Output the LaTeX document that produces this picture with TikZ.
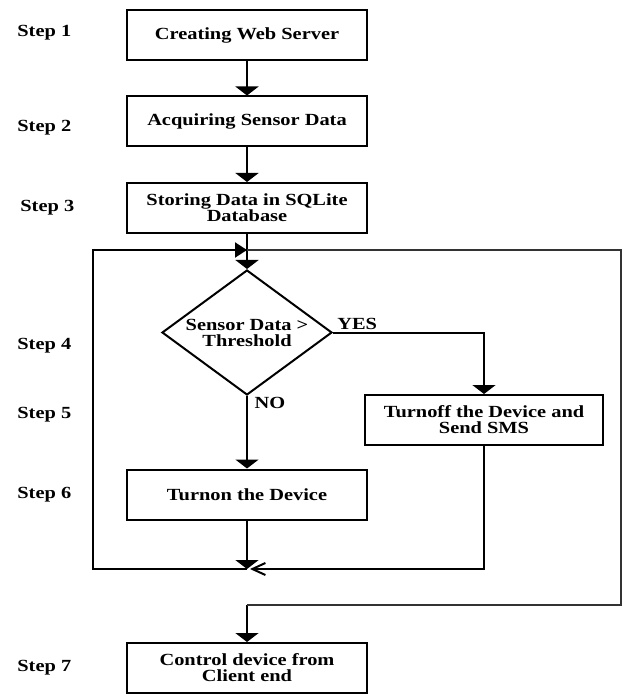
\documentclass[tikz,border=0pt]{standalone}
\usepackage{fontspec}
\setmainfont{Liberation Serif}[FakeStretch=1.2]
\usepackage{tikz}
\usetikzlibrary{arrows.meta,positioning,shapes.geometric}

\begin{document}
\begin{tikzpicture}[x=0.5pt,y=-0.5pt,node distance=43.25pt,on grid,auto,
        font=\fontsize{8.5}{8}\selectfont\bfseries,
        box/.style={draw,line width=1pt,minimum width=120pt,minimum height=25pt,inner sep=1pt,align=center},
        test/.style={draw,diamond,line width=1pt,minimum width=85pt,minimum height=62.5pt,aspect=1.36,inner sep=-1.5pt,align=center},
        steplbl/.style={anchor=west,inner sep=0pt},
        flow/.style={line width=1pt,-{Triangle[width=11.5pt,length=4.5pt]}},
        loopin/.style={line width=1pt,-{Triangle[width=7.5pt,length=6pt]}},
        back/.style={line width=1pt,-{Straight Barb[width=6pt,length=6.5pt]}}]
        \useasboundingbox (0,0) rectangle (624,695);
        \node[box]  (s_1) at (247,35)     {Creating Web Server};
        \node[box]  (s_2) [below=of s_1]  {Acquiring Sensor Data};
        \node[box]  (s_3) [below=of s_2]  {Storing Data in SQLite\\Database};
        \node[test] (s_4) [below=62.25pt of s_3] {Sensor Data >\\Threshold};
        \node[box,minimum width=119pt] (s_5) [below right=43.75pt and 118.5pt of s_4] {Turnoff the Device and\\Send SMS};
        \node[box]  (s_6) [below=81pt of s_4] {Turnon the Device};
        \node[box]  (s_7) at (247,668)    {Control device from\\Client end};
        % step labels
        \node[steplbl] (l_1) at (17,33)  {Step 1};
        \node[steplbl] (l_2) at (17,128) {Step 2};
        \node[steplbl] (l_3) at (20,208) {Step 3};
        \node[steplbl] (l_4) at (17,346) {Step 4};
        \node[steplbl] (l_5) at (17,415) {Step 5};
        \node[steplbl] (l_6) at (17,495) {Step 6};
        \node[steplbl] (l_7) at (17,668) {Step 7};
        % loop points
        \coordinate (top)  at (247,250);
        \coordinate (mrg)  at (247,569);
        \coordinate (mrgr) at (250,569);
        \coordinate (out)  at (247,605);
        \path[flow]
        (s_1) edge (s_2)
        (s_2) edge (s_3)
        (s_3) edge (s_4)
        (s_4) edge node[pos=0.1] {NO} (s_6)
        (s_6) edge (mrg)
        (out) edge (s_7);
        \draw[flow] (s_4.east) -- node[pos=0.16,inner sep=1pt] {YES} (s_4.east -| s_5) -- (s_5);
        \draw[back] (s_5) |- (mrgr);
        \draw[loopin] (mrg) -- (93,569) -- (93,250) -- (top);
        \draw[line width=1pt,black!80] (top) -- (621,250) -- (621,605) -- (out);
\end{tikzpicture}
\end{document}
